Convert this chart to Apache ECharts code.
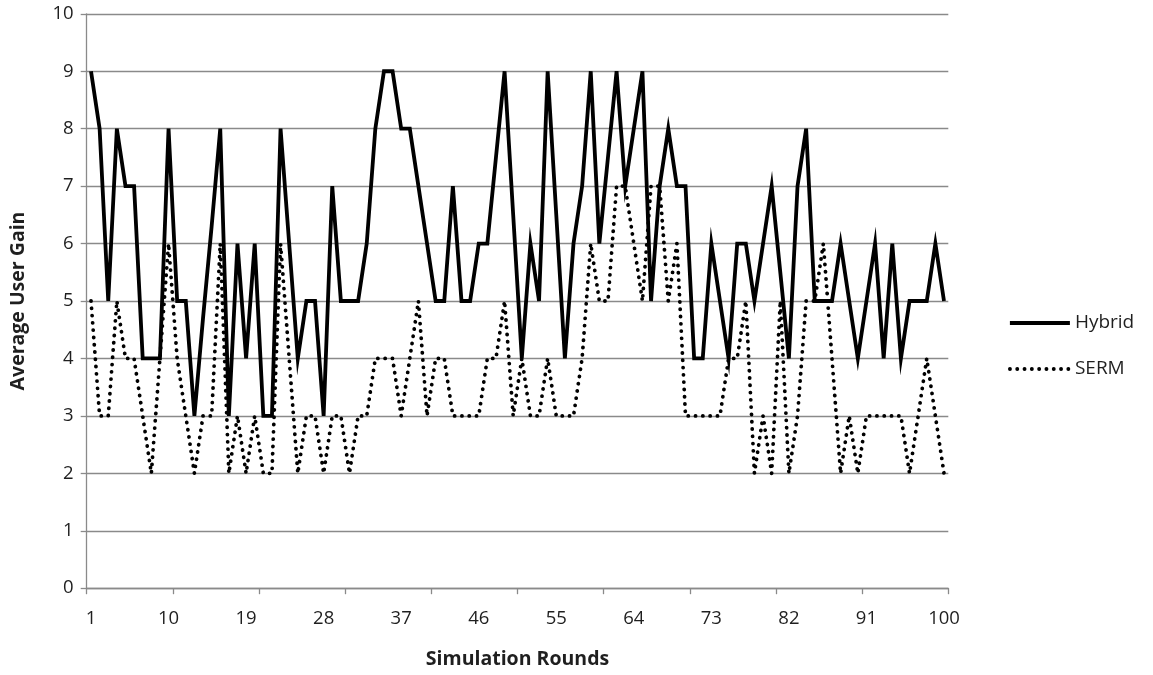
<!DOCTYPE html>
<html>
<head>
<meta charset="utf-8">
<script src="https://cdn.jsdelivr.net/npm/echarts@6/dist/echarts.min.js"></script>
<style>
  html, body { margin: 0; padding: 0; background: #ffffff; }
  #chart { width: 1153px; height: 675px; }
</style>
</head>
<body>
<div id="chart"></div>
<script>
const categories = [
  1,2,3,4,5,6,7,8,9,10,11,12,13,14,15,16,17,18,19,20,
  21,22,23,24,25,26,27,28,29,30,31,32,33,34,35,36,37,38,39,40,
  41,42,43,44,45,46,47,48,49,50,51,52,53,54,55,56,57,58,59,60,
  61,62,63,64,65,66,67,68,69,70,71,72,73,74,75,76,77,78,79,80,
  81,82,83,84,85,86,87,88,89,90,91,92,93,94,95,96,97,98,99,100
];

const hybrid = [
  9, 8, 5, 8, 7, 7, 4, 4, 4, 8,
  5, 5, 3, 4.7, 6.3, 8, 3, 6, 4, 6,
  3, 3, 8, 6, 4, 5, 5, 3, 7, 5,
  5, 5, 6, 8, 9, 9, 8, 8, 7, 6,
  5, 5, 7, 5, 5, 6, 6, 7.5, 9, 6.5,
  4, 6, 5, 9, 6.5, 4, 6, 7, 9, 6,
  7.5, 9, 7, 8, 9, 5, 7, 8, 7, 7,
  4, 4, 6, 5, 4, 6, 6, 5, 6, 7,
  5.5, 4, 7, 8, 5, 5, 5, 6, 5, 4,
  5, 6, 4, 6, 4, 5, 5, 5, 6, 5
];

const serm = [
  5, 3, 3, 5, 4, 4, 3, 2, 4, 6,
  4, 3, 2, 3, 3, 6, 2, 3, 2, 3,
  2, 2, 6, 4, 2, 3, 3, 2, 3, 3,
  2, 3, 3, 4, 4, 4, 3, 4, 5, 3,
  4, 4, 3, 3, 3, 3, 4, 4, 5, 3,
  4, 3, 3, 4, 3, 3, 3, 4, 6, 5,
  5, 7, 7, 6, 5, 7, 7, 5, 6, 3,
  3, 3, 3, 3, 4, 4, 5, 2, 3, 2,
  5, 2, 3, 5, 5, 6, 4, 2, 3, 2,
  3, 3, 3, 3, 3, 2, 3, 4, 3, 2
];

const xTickLabels = ['1','10','19','28','37','46','55','64','73','82','91','100'];
const yTickLabels = ['0','1','2','3','4','5','6','7','8','9','10'];

const FONT = '"Open Sans", Lato, "Liberation Sans", sans-serif';
const TEXT = '#1f1f1f';
const GRID = '#8a8a8a';

const hybridLine = { color: '#000000', width: 3.8, join: 'miter', miterLimit: 10 };
const sermLine = { color: '#000000', width: 3.8, type: [0.1, 7.2], cap: 'round', join: 'round' };

const chart = echarts.init(document.getElementById('chart'), null, { renderer: 'canvas' });

chart.setOption({
  backgroundColor: '#ffffff',
  animation: false,
  grid: { left: 86.7, right: 204.7, top: 13.8, bottom: 86.8, containLabel: false },
  legend: {
    orient: 'vertical',
    left: 1003,
    top: 307,
    itemWidth: 60,
    itemHeight: 22,
    itemGap: 24,
    itemStyle: { opacity: 0 },
    textStyle: { fontFamily: FONT, fontSize: 19, color: TEXT, lineHeight: 22 },
    data: [
      { name: 'Hybrid', lineStyle: hybridLine },
      { name: 'SERM', lineStyle: sermLine }
    ]
  },
  xAxis: {
    type: 'category',
    data: categories.map(String),
    boundaryGap: true,
    name: 'Simulation Rounds',
    nameLocation: 'middle',
    nameGap: 61,
    nameTextStyle: { fontFamily: FONT, fontSize: 19.5, fontWeight: 'bold', color: TEXT },
    axisLine: { show: true, lineStyle: { color: GRID, width: 1.3 } },
    axisTick: {
      show: true, length: 6, lineStyle: { color: GRID, width: 1.3 },
      interval: function (index) { return index % 10 === 0; }
    },
    axisLabel: {
      interval: 8,
      margin: 21,
      fontFamily: FONT, fontSize: 18.5, color: TEXT,
      formatter: function (v) { return xTickLabels.indexOf(v) >= 0 ? v : ''; }
    },
    splitLine: { show: false }
  },
  yAxis: {
    type: 'value',
    min: 0, max: 10, interval: 1,
    name: 'Average User Gain',
    nameLocation: 'middle',
    nameGap: 58,
    nameRotate: 90,
    nameTextStyle: { fontFamily: FONT, fontSize: 19.5, fontWeight: 'bold', color: TEXT },
    axisLine: { show: true, lineStyle: { color: GRID, width: 1.3 } },
    axisTick: { show: true, length: 6, lineStyle: { color: GRID, width: 1.3 } },
    axisLabel: {
      margin: 13, fontFamily: FONT, fontSize: 18.5, color: TEXT,
      formatter: function (v) { return yTickLabels[v] !== undefined ? yTickLabels[v] : String(v); }
    },
    splitLine: { show: true, lineStyle: { color: GRID, width: 1.3 } }
  },
  series: [
    {
      name: 'Hybrid',
      type: 'line',
      data: hybrid,
      symbol: 'none',
      color: '#000000',
      lineStyle: hybridLine
    },
    {
      name: 'SERM',
      type: 'line',
      data: serm,
      symbol: 'none',
      color: '#000000',
      lineStyle: sermLine
    }
  ]
});
</script>
</body>
</html>
